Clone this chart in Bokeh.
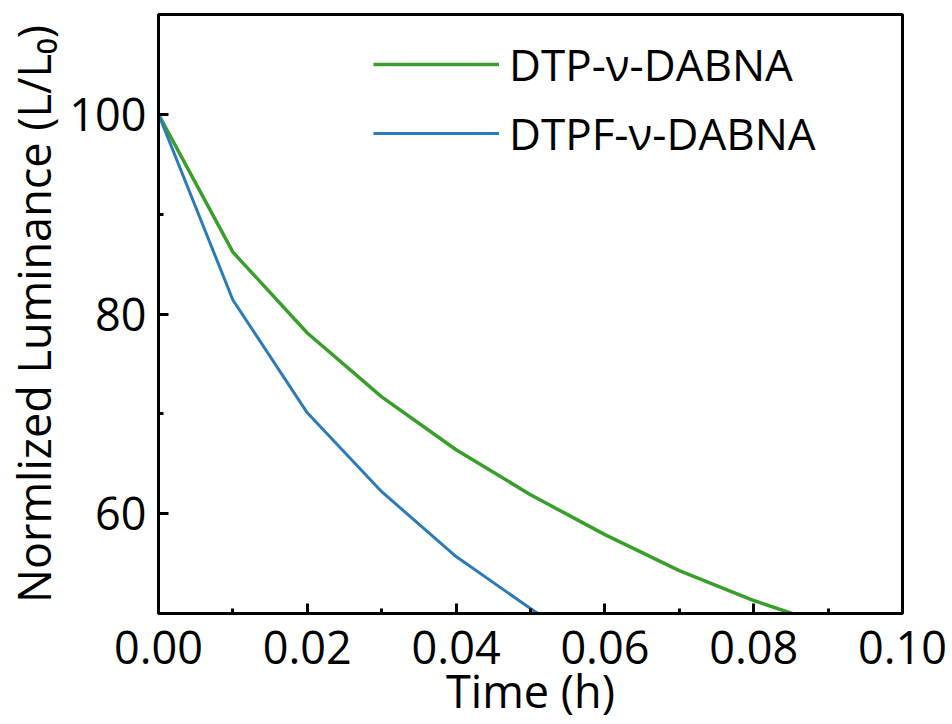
from bokeh.plotting import figure
from bokeh.models import FixedTicker, Range1d, Legend, LegendItem
from bokeh.embed import file_html
from bokeh.resources import INLINE

# Data
time_h = [0.00, 0.01, 0.02, 0.03, 0.04, 0.05, 0.06, 0.07, 0.08, 0.09]
dtp_lum = [100.0, 86.2, 78.1, 71.7, 66.4, 61.9, 57.9, 54.3, 51.3, 48.8]
time_h_f = [0.00, 0.01, 0.02, 0.03, 0.04, 0.05, 0.06]
dtpf_lum = [100.0, 81.4, 70.1, 62.2, 55.7, 50.5, 45.5]

x_ticks = [0.00, 0.02, 0.04, 0.06, 0.08, 0.10]
x_tick_labels = ["0.00", "0.02", "0.04", "0.06", "0.08", "0.10"]
x_minor = [0.01, 0.03, 0.05, 0.07, 0.09]
y_ticks = [60, 80, 100]
y_minor = [70, 90]

x_title = "Time (h)"
y_title = "Normlized Luminance (L/L\u2080)"
series_names = ["DTP-\u03bd-DABNA", "DTPF-\u03bd-DABNA"]
green = "#3a9e2c"
blue = "#2b7bbb"
FONT = "Open Sans"

p = figure(width=952, height=724, output_backend="svg", toolbar_location=None,
           x_range=Range1d(0, 0.10), y_range=Range1d(50, 110))
p.min_border_left = 157
p.min_border_right = 50
p.min_border_top = 14
p.min_border_bottom = 111
p.background_fill_color = "white"
p.border_fill_color = "white"
p.outline_line_color = "black"
p.outline_line_width = 3
p.grid.visible = False

r1 = p.line(time_h, dtp_lum, line_color=green, line_width=3.5)
r2 = p.line(time_h_f, dtpf_lum, line_color=blue, line_width=3)

p.xaxis.ticker = FixedTicker(ticks=x_ticks, minor_ticks=x_minor)
p.xaxis.major_label_overrides = {t: l for t, l in zip(x_ticks, x_tick_labels)}
p.yaxis.ticker = FixedTicker(ticks=y_ticks, minor_ticks=y_minor)

for ax in (p.xaxis[0], p.yaxis[0]):
    ax.axis_line_width = 3
    ax.axis_line_color = "black"
    ax.major_tick_in = 10
    ax.major_tick_out = 0
    ax.minor_tick_in = 5
    ax.minor_tick_out = 0
    ax.major_tick_line_width = 3
    ax.minor_tick_line_width = 3
    ax.major_label_text_font = FONT
    ax.major_label_text_font_size = "45px"
    ax.major_label_text_color = "black"
    ax.axis_label_text_font = FONT
    ax.axis_label_text_font_size = "45px"
    ax.axis_label_text_font_style = "normal"
    ax.axis_label_text_color = "black"

p.xaxis.axis_label = x_title
p.xaxis.major_label_standoff = 17
p.xaxis.axis_label_standoff = -7
p.yaxis.axis_label = y_title
p.yaxis.major_label_standoff = 12
p.yaxis.axis_label_standoff = 2

legend = Legend(items=[LegendItem(label=series_names[0], renderers=[r1]),
                       LegendItem(label=series_names[1], renderers=[r2])])
legend.background_fill_alpha = 0
legend.border_line_alpha = 0
legend.label_text_font = FONT
legend.label_text_font_size = "44px"
legend.label_text_color = "black"
legend.glyph_width = 126
legend.glyph_height = 40
legend.spacing = 9
legend.label_standoff = 10
legend.margin = 0
legend.padding = 0
legend.location = (215, 450)
p.add_layout(legend)

open("out.html", "w").write(file_html(p, INLINE))
